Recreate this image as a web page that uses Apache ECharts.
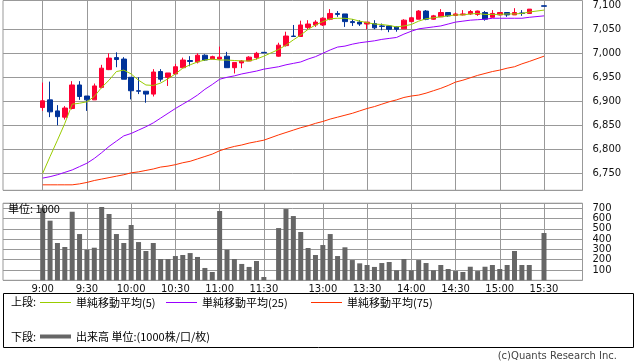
<!DOCTYPE html>
<html><head><meta charset="utf-8">
<script src="https://cdn.jsdelivr.net/npm/echarts@6/dist/echarts.min.js"></script>
<style>html,body{margin:0;padding:0;background:#fff}#c{width:638px;height:362px}</style>
</head><body><div id="c"></div>
<script>
const slots = ['9:00','9:05','9:10','9:15','9:20','9:25','9:30','9:35','9:40','9:45','9:50','9:55',
  '10:00','10:05','10:10','10:15','10:20','10:25','10:30','10:35','10:40','10:45','10:50','10:55',
  '11:00','11:05','11:10','11:15','11:20','11:25','11:30','',
  '12:30','12:35','12:40','12:45','12:50','12:55',
  '13:00','13:05','13:10','13:15','13:20','13:25','13:30','13:35','13:40','13:45','13:50','13:55',
  '14:00','14:05','14:10','14:15','14:20','14:25','14:30','14:35','14:40','14:45','14:50','14:55',
  '15:00','15:05','15:10','15:15','15:20','15:25','15:30'];
const tickLabels = ['9:00','9:30','10:00','10:30','11:00','11:30','13:00','13:30','14:00','14:30','15:00','15:30'];

const opens  = [6887,6903,6880,6867,6885,6934,6911,6903,6929,6966,6991,6988,
  6950,6922,6921,6915,6962,6950,6957,6970,6985,6982,6996,6988,
  6988,6994,6970,6980,6984,6991,7002,null,
  6994,7016,7036,7035,7054,7059,
  7059,7071,7083,7082,7066,7065,7061,7062,7057,7057,7055,7051,
  7066,7071,7088,7071,7076,7085,7079,7080,7082,7081,7085,7075,
  7080,7085,7080,7084,7083,null,7099];
const closes = [6901,6878,6868,6886,6934,6910,6903,6932,6969,6990,6987,6946,
  6922,6921,6915,6961,6946,6959,6972,6986,6983,6996,6986,6993,
  6992,6970,6981,6984,6992,7000,7001,null,
  7017,7036,7035,7059,7061,7065,
  7073,7083,7081,7066,7064,7061,7065,7053,7056,7050,7050,7069,
  7074,7088,7071,7078,7085,7078,7082,7082,7087,7088,7071,7083,
  7085,7080,7085,7083,7092,null,7098];
const lows   = [6880,6867,6850,6862,6883,6903,6880,6903,6927,6965,6971,6946,
  6904,6915,6897,6910,6941,6932,6957,6970,6973,6979,6984,6988,
  6987,6970,6958,6969,6984,6987,7001,null,
  6993,7014,7035,7035,7050,7055,
  7057,7069,7076,7055,7057,7057,7050,7050,7048,7044,7045,7051,
  7065,7071,7069,7070,7076,7076,7078,7079,7080,7078,7068,7074,
  7079,7076,7080,7078,7083,null,7098];
const highs  = [6939,6941,6892,6890,6942,6942,6911,6937,6976,7000,7002,6992,
  6950,6950,6921,6967,6967,6959,6978,6991,6994,7000,6998,6995,
  7014,7003,6981,6986,6994,7003,7002,null,
  7022,7045,7059,7068,7069,7069,
  7075,7092,7088,7082,7071,7069,7065,7069,7062,7058,7056,7071,
  7076,7090,7090,7080,7092,7085,7085,7090,7090,7089,7088,7090,
  7085,7085,7094,7090,7092,null,7099];

const ma5  = [6750,6785,6819,6854,6894,6896,6899,6910,6929,6944,6962,6965,
  6957,6944,6934,6933,6938,6947,6957,6969,6976,6982,6986,6988,
  6986,6986,6985,6984,6984,6988,6994,null,
  7008,7017,7028,7038,7050,7059,
  7066,7072,7073,7073,7071,7067,7064,7061,7060,7058,7055,7057,
  7060,7067,7072,7074,7076,7078,7080,7080,7082,7083,7081,7081,
  7081,7082,7082,7083,7086,null,7090];
const ma25 = [6740,6743,6747,6752,6757,6764,6771,6781,6793,6806,6817,6828,
  6833,6840,6847,6855,6865,6875,6885,6894,6903,6913,6925,6935,
  6946,6950,6953,6957,6960,6963,6967,null,
  6972,6976,6979,6982,6988,6993,
  7000,7007,7013,7015,7019,7022,7024,7026,7029,7031,7033,7040,
  7046,7051,7053,7055,7057,7061,7065,7067,7069,7070,7071,7073,
  7073,7073,7073,7073,7075,null,7078];
const ma75 = [6726,6726,6726,6726,6726,6728,6731,6735,6738,6741,6744,6747,
  6751,6753,6756,6759,6763,6765,6768,6772,6775,6780,6785,6790,
  6797,6802,6806,6809,6813,6816,6819,null,
  6830,6835,6840,6845,6849,6854,
  6858,6863,6867,6871,6875,6880,6885,6889,6894,6899,6903,6908,
  6911,6913,6917,6922,6927,6933,6940,6944,6949,6954,6958,6962,
  6965,6969,6972,6978,6983,null,6994];
const volumes = [705,580,363,324,667,450,298,317,713,645,450,363,
  538,372,285,363,207,207,236,246,265,227,120,81,
  674,298,207,159,130,188,32,null,
  508,693,625,470,314,246,
  343,450,236,321,197,165,149,130,168,178,97,207,
  97,197,168,97,149,110,90,81,132,90,132,149,
  110,149,285,149,149,null,460];

const candleData = slots.map((s, i) => opens[i] == null ? ['-','-','-','-'] : [opens[i], closes[i], lows[i], highs[i]]);
const isTick = (idx, val) => tickLabels.indexOf(val) >= 0;

const GRID = '#999';
const NUMFONT = 'DejaVu Sans';
const JPFONT = 'Noto Sans CJK JP';

const hiddenVal = (g) => ({type:'value', gridIndex:g, show:false, min:0, max:1, splitLine:{show:false}});
const legendText = {fontSize:11, color:'#000', fontFamily:JPFONT};

const chart = echarts.init(document.getElementById('c'), null, {renderer:'canvas'});
chart.setOption({
  animation: false,
  backgroundColor: '#fff',
  textStyle: {fontFamily: NUMFONT},
  grid: [
    {left:3, top:0.5, width:579.5, height:189.8, show:true, borderColor:GRID, borderWidth:1, backgroundColor:'transparent'},
    {left:3, top:5.3, width:579.5, height:185},
    {left:42.7, top:0.5, width:501.3, height:189.8},
    {left:3, top:203.2, width:579.5, height:77.1, show:true, borderColor:GRID, borderWidth:1, backgroundColor:'transparent'},
    {left:42.7, top:203.2, width:501.3, height:77.1}
  ],
  xAxis: [
    hiddenVal(0), hiddenVal(1),
    {type:'category', gridIndex:2, data:slots, boundaryGap:false,
      axisLine:{show:false}, axisTick:{show:false}, axisLabel:{show:false},
      splitLine:{show:true, interval:isTick, lineStyle:{color:GRID, width:1}}},
    hiddenVal(3),
    {type:'category', gridIndex:4, data:slots, boundaryGap:false,
      axisLine:{show:false}, axisTick:{show:false},
      axisLabel:{show:true, interval:isTick, margin:4, fontSize:10, color:'#111', fontFamily:NUMFONT},
      splitLine:{show:true, interval:isTick, lineStyle:{color:GRID, width:1}}}
  ],
  yAxis: [
    {type:'value', gridIndex:0, show:false, min:0, max:1, splitLine:{show:false}},
    {type:'value', gridIndex:1, position:'right', min:6714.6, max:7100, minInterval:50, maxInterval:50,
      axisLine:{show:false}, axisTick:{show:false},
      axisLabel:{margin:10, fontSize:10, color:'#111', fontFamily:NUMFONT, showMinLabel:false, showMaxLabel:true,
        formatter: v => Math.round(v).toLocaleString('en-US')},
      splitLine:{show:true, showMaxLine:false, lineStyle:{color:GRID, width:1}}},
    {type:'value', gridIndex:2, show:false, min:6714.6, max:7110, splitLine:{show:false}},
    {type:'value', gridIndex:3, position:'right', min:0, max:750, minInterval:100, maxInterval:100,
      axisLine:{show:false}, axisTick:{show:false},
      axisLabel:{margin:10, fontSize:10, color:'#111', fontFamily:NUMFONT, showMinLabel:false, showMaxLabel:false},
      splitLine:{show:true, lineStyle:{color:GRID, width:1}}},
    {type:'value', gridIndex:4, show:false, min:0, max:750, splitLine:{show:false}}
  ],
  legend: [
    {left:40, top:297, padding:0, data:['単純移動平均(5)'], icon:'rect', itemWidth:31, itemHeight:1, selectedMode:false, textStyle:legendText},
    {left:166, top:297, padding:0, data:['単純移動平均(25)'], icon:'rect', itemWidth:31, itemHeight:1, selectedMode:false, textStyle:legendText},
    {left:311, top:297, padding:0, data:['単純移動平均(75)'], icon:'rect', itemWidth:31, itemHeight:1, selectedMode:false, textStyle:legendText},
    {left:40, top:331, padding:0, data:['出来高 単位:(1000株/口/枚)'], icon:'rect', itemWidth:31, itemHeight:4, selectedMode:false, textStyle:legendText}
  ],
  series: [
    {type:'candlestick', name:'株価', xAxisIndex:2, yAxisIndex:2, data:candleData, barWidth:5, clip:false,
      itemStyle:{color:'#ff0033', color0:'#003399', borderColor:'#ff0033', borderColor0:'#003399', borderWidth:1}},
    {type:'line', name:'単純移動平均(5)', xAxisIndex:2, yAxisIndex:2, data:ma5, symbol:'none', connectNulls:true, z:3,
      color:'#99cc00', lineStyle:{color:'#99cc00', width:1}},
    {type:'line', name:'単純移動平均(25)', xAxisIndex:2, yAxisIndex:2, data:ma25, symbol:'none', connectNulls:true, z:3,
      color:'#9900ff', lineStyle:{color:'#9900ff', width:1}},
    {type:'line', name:'単純移動平均(75)', xAxisIndex:2, yAxisIndex:2, data:ma75, symbol:'none', connectNulls:true, z:3,
      color:'#ff3300', lineStyle:{color:'#ff3300', width:1}},
    {type:'bar', name:'出来高 単位:(1000株/口/枚)', xAxisIndex:4, yAxisIndex:4, data:volumes, barWidth:5, clip:false,
      color:'#666666', itemStyle:{color:'#666666'}}
  ],
  graphic: {elements: [
    {type:'text', left:8, top:203, z:100, style:{text:'単位: 1000', fontSize:11, fontFamily:JPFONT, fill:'#000'}},
    {type:'rect', z:100, shape:{x:3.5, y:293.5, width:630, height:54}, style:{fill:'none', stroke:'#000', lineWidth:1}},
    {type:'text', left:11, top:296, z:100, style:{text:'上段:', fontSize:11, fontFamily:JPFONT, fill:'#000'}},
    {type:'text', left:11, top:331, z:100, style:{text:'下段:', fontSize:11, fontFamily:JPFONT, fill:'#000'}},
    {type:'text', right:21, top:351, z:100, style:{text:'(c)Quants Research Inc.', fontSize:10, fontFamily:NUMFONT, fill:'#444'}}
  ]}
});
</script>
</body></html>
